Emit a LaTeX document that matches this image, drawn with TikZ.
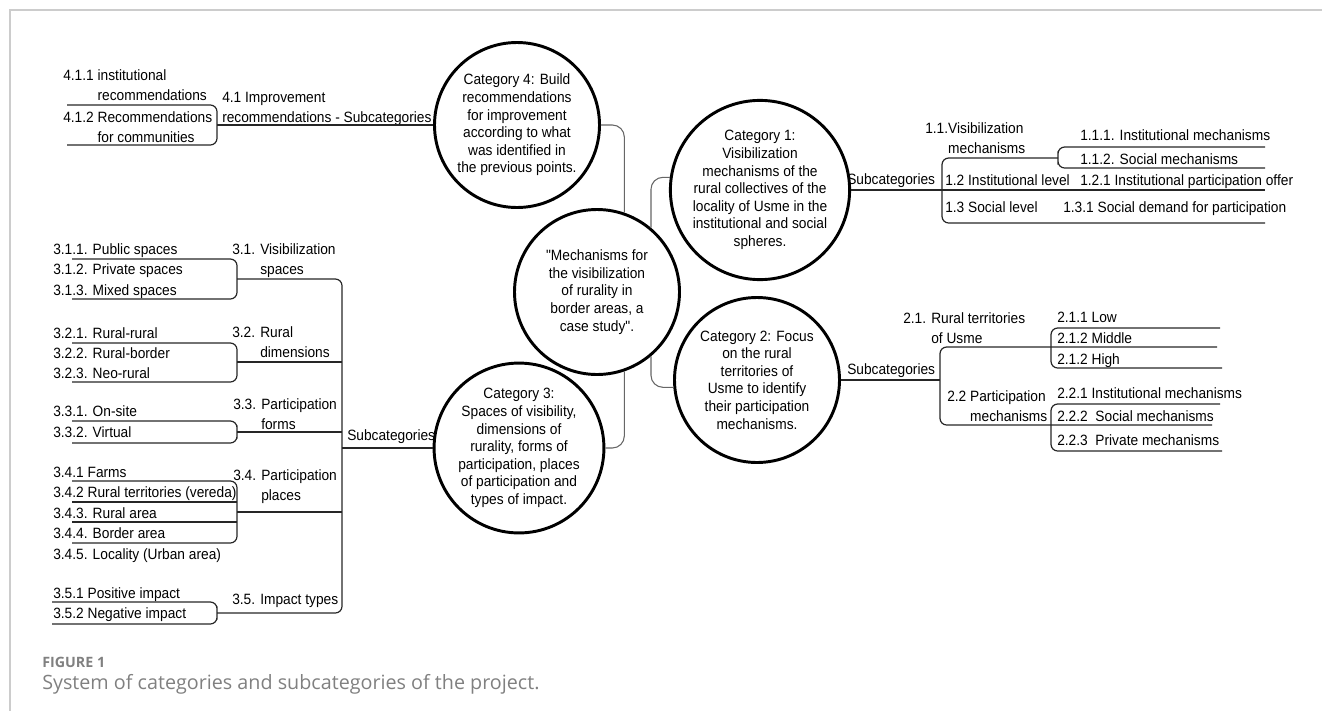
\documentclass[tikz,border=0pt]{standalone}
\usepackage{fontspec}
\setmainfont[FakeStretch=0.92]{Liberation Sans}
\newfontfamily\qf[FakeStretch=0.92]{Liberation Sans}
\newfontfamily\capfont{Open Sans}
\usetikzlibrary{positioning}
\newcommand\tf{\fontsize{11.2pt}{14.5pt}\selectfont}
\newcommand\cf{\fontsize{11.2pt}{13.2pt}\selectfont}

\begin{document}
\begin{tikzpicture}
	[x=0.75pt, y=-0.75pt,
	main/.style = {draw, circle, line width=2.2pt, minimum size=123.75pt, inner sep=0pt, align=center, font=\cf},
	lbl/.style = {anchor=base west, inner sep=0pt, align=left, font=\tf},
	tree/.style = {line width=0.9pt, rounded corners=5pt, black!85},
	link/.style = {line width=0.8pt, rounded corners=9pt, black!60},
	figcap/.style = {anchor=base west, inner sep=0pt, text=black!50}]
	\useasboundingbox (0,0) rectangle (1322,711);
	\draw[black!20, line width=1.1pt] (10,711) -- (10,10) -- (1322,10);
	\node[main] (0) at (597,292) {{\qf"}Mechanisms for\\the visibilization\\of rurality in\\border areas, a\\case study{\qf"}.};
	\node[main] (1) at (760,190) {Category 1:\\Visibilization\\mechanisms of the\\rural collectives of the\\locality of Usme in the\\institutional and social\\spheres.};
	\node[main] (2) at (757,380) {Category 2: Focus\\on the rural\\territories of\\Usme to identify\\their participation\\mechanisms.};
	\node[main] (3) at (519,448) {Category 3:\\Spaces of visibility,\\dimensions of\\rurality, forms of\\participation, places\\of participation and\\types of impact.};
	\node[main] (4) at (517,125) {Category 4: Build\\recommendations\\for improvement\\according to what\\was identified in\\the previous points.};
	\draw[link] (4.east) -| (0.71);
	\draw[link] (0.-71) |- (3.east);
	\draw[link] (0.50) |- (1.172);
	\draw[link] (0.-50) |- (2.185);

	\node[lbl] (411) at (63,100) {4.1.1 institutional\\\phantom{4.1.1 }recommendations};
	\node[lbl] (412) at (63,142) {4.1.2 Recommendations\\\phantom{4.1.2 }for communities};
	\node[lbl] (41) at (222,122) {4.1 Improvement\\recommendations - Subcategories};
	\coordinate (b41) at (217,125);
	\coordinate (l411) at (67,105);
	\coordinate (l412) at (67,145);
	\draw[tree] (l411) -| (b41) |- (l412);
	\draw[tree] (b41) -- (4);

	\node[lbl] (1s) at (847,184) {Subcategories};
	\node[lbl] (11) at (925,153) {1.1.Visibilization\\\phantom{1.1.}mechanisms};
	\node[lbl] (111) at (1080,140) {1.1.1. Institutional mechanisms};
	\node[lbl] (112) at (1080,164) {1.1.2. Social mechanisms};
	\node[lbl] (12) at (945,185) {1.2 Institutional level};
	\node[lbl] (121) at (1080,185) {1.2.1 Institutional participation offer};
	\node[lbl] (13) at (945,212) {1.3 Social level};
	\node[lbl] (131) at (1063,212) {1.3.1 Social demand for participation};
	\coordinate (b1) at (942,190);
	\coordinate (b11) at (1058,158);
	\coordinate (r1) at (1265,190);
	\coordinate (l111) at (1265,147);
	\coordinate (l112) at (1265,168);
	\coordinate (l13) at (1265,223);
	\draw[tree] (1) -- (r1);
	\draw[tree] (b11) -| (b1) |- (l13);
	\draw[tree] (l111) -| (b11) |- (l112);

	\node[lbl] (2s) at (847,374) {Subcategories};
	\node[lbl] (21) at (903,343) {2.1. Rural territories\\\phantom{2.1. }of Usme};
	\node[lbl] (22) at (947,421) {2.2 Participation\\\phantom{2.2 }mechanisms};
	\node[lbl] (211) at (1057,322) {2.1.1 Low};
	\node[lbl] (212) at (1057,343) {2.1.2 Middle};
	\node[lbl] (213) at (1057,364) {2.1.2 High};
	\node[lbl] (221) at (1057,398) {2.2.1 Institutional mechanisms};
	\node[lbl] (222) at (1057,421) {2.2.2~ Social mechanisms};
	\node[lbl] (223) at (1057,445) {2.2.3~ Private mechanisms};
	\coordinate (b2) at (940,380);
	\coordinate (b21) at (1051,348);
	\coordinate (b22) at (1051,428);
	\coordinate (l21) at (1217,347);
	\coordinate (l22) at (1212,425);
	\coordinate (l211) at (1220,328);
	\coordinate (l213) at (1222,368);
	\coordinate (l221) at (1220,404);
	\coordinate (l223) at (1222,451);
	\draw[tree] (2) -- (b2);
	\draw[tree] (l21) -| (b2) |- (l22);
	\draw[tree] (l211) -| (b21) |- (l213);
	\draw[tree] (l221) -| (b22) |- (l223);

	\node[lbl] (3s) at (347,440) {Subcategories};
	\node[lbl] (31) at (232,274) {3.1. Visibilization\\\phantom{3.1. }spaces};
	\node[lbl] (32) at (232,357) {3.2. Rural\\\phantom{3.2. }dimensions};
	\node[lbl] (33) at (233,429) {3.3. Participation\\\phantom{3.3. }forms};
	\node[lbl] (34) at (233,500) {3.4. Participation\\\phantom{3.4. }places};
	\node[lbl] (35) at (232,604) {3.5. Impact types};
	\node[lbl] (311) at (53,254) {3.1.1. Public spaces};
	\node[lbl] (312) at (53,274) {3.1.2. Private spaces};
	\node[lbl] (313) at (53,295) {3.1.3. Mixed spaces};
	\node[lbl] (321) at (53,338) {3.2.1. Rural-rural};
	\node[lbl] (322) at (53,358) {3.2.2. Rural-border};
	\node[lbl] (323) at (53,378) {3.2.3. Neo-rural};
	\node[lbl] (331) at (53,416) {3.3.1. On-site};
	\node[lbl] (332) at (53,437) {3.3.2. Virtual};
	\node[lbl] (341) at (53,477) {3.4.1 Farms};
	\node[lbl] (342) at (53,497) {3.4.2 Rural territories (vereda)};
	\node[lbl] (343) at (53,518) {3.4.3. Rural area};
	\node[lbl] (344) at (53,538) {3.4.4. Border area};
	\node[lbl] (345) at (53,559) {3.4.5. Locality (Urban area)};
	\node[lbl] (351) at (53,598) {3.5.1 Positive impact};
	\node[lbl] (352) at (53,618) {3.5.2 Negative impact};
	\coordinate (b3) at (342,448);
	\coordinate (b31) at (237,279);
	\coordinate (b32) at (237,362);
	\coordinate (b33) at (237,432);
	\coordinate (b34) at (237,512);
	\coordinate (b35) at (217,613);
	\coordinate (l311) at (72,259);
	\coordinate (l313) at (72,299);
	\coordinate (l321) at (72,343);
	\coordinate (l323) at (72,382);
	\coordinate (l331) at (72,421);
	\coordinate (l332) at (72,443);
	\coordinate (l341) at (72,481);
	\coordinate (l342) at (72,502);
	\coordinate (l343) at (72,522);
	\coordinate (l344) at (72,543);
	\coordinate (l351) at (52,602);
	\coordinate (l352) at (52,624);
	\draw[tree] (3) -- (b3);
	\draw[tree] (b31) -| (b3) |- (b35);
	\draw[tree] (b32) -- (b32 -| b3);
	\draw[tree] (b33) -- (b33 -| b3);
	\draw[tree] (b34) -- (b34 -| b3);
	\draw[tree] (l311) -| (b31) |- (l313);
	\draw[tree] (l321) -| (b32) |- (l323);
	\draw[tree] (l331) -| (b33) |- (l332);
	\draw[tree] (l341) -| (b34) |- (l344);
	\draw[tree] (l342) -- (l342 -| b34);
	\draw[tree] (l343) -- (l343 -| b34);
	\draw[tree] (l351) -| (b35) |- (l352);

	\node[figcap, font=\capfont\bfseries\fontsize{10.7pt}{12pt}\selectfont] (fig) at (42,667) {FIGURE 1};
	\node[figcap, font=\capfont\fontsize{14.8pt}{16pt}\selectfont] (txt) at (42,689) {System of categories and subcategories of the project.};
\end{tikzpicture}
\end{document}
